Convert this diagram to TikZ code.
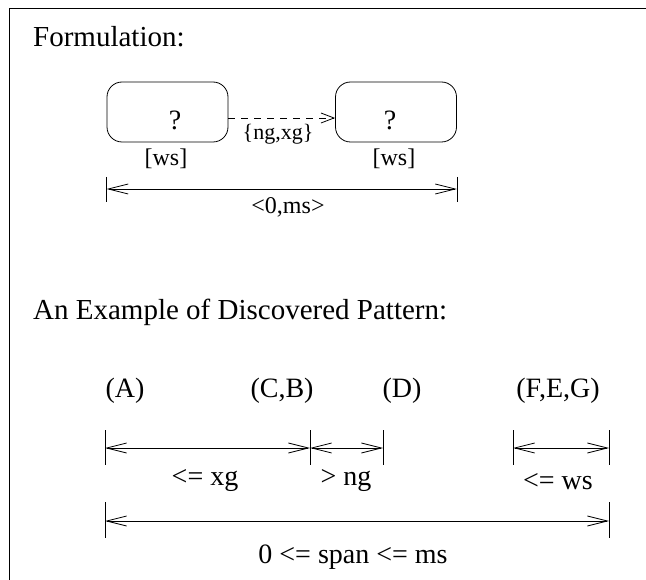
\documentclass[tikz,border=0pt]{standalone}
\usepackage{fontspec}
\setmainfont{Liberation Serif}
\usetikzlibrary{arrows.meta}
\tikzset{
  x=1pt, y=-1pt,
  hdtxt/.style={font=\fontsize{29}{32}\selectfont, inner sep=0pt, anchor=base west},
  pattxt/.style={font=\fontsize{28}{30}\selectfont, inner sep=0pt, anchor=base},
  qtxt/.style={font=\fontsize{28}{30}\selectfont, inner sep=0pt, anchor=base},
  wstxt/.style={font=\fontsize{24}{26}\selectfont, inner sep=0pt, anchor=base},
  gaptxt/.style={font=\fontsize{22}{24}\selectfont, inner sep=0pt, anchor=base},
  qbox/.style={draw, rounded corners=15pt, minimum width=121pt, minimum height=60pt, inner sep=0pt, line width=0.8pt},
  dimline/.style={line width=0.8pt, {Straight Barb[length=20pt,width=10pt]}-{Straight Barb[length=20pt,width=10pt]}},
  gaparrow/.style={line width=0.8pt, dash pattern=on 7pt off 6pt, -{Straight Barb[length=13pt,width=10pt]}},
  tick/.style={line width=0.8pt},
  frame/.style={line width=1pt}
}
\begin{document}
\begin{tikzpicture}
\useasboundingbox (0,0) rectangle (646,580);
% frame
\coordinate (fb) at (9,580);
\coordinate (ftl) at (9,9);
\coordinate (ftr) at (646,9);
\draw[frame] (fb) -- (ftl) -- (ftr);

\node[hdtxt] (form) at (33,47) {Formulation:};

\node[qbox] (b1) at (167.5,112) {};
\node[qbox] (b2) at (396,112) {};
\node[qtxt] (q1) at (175,130) {?};
\node[qtxt] (q2) at (390,130) {?};
\coordinate (d1) at (b1.east |- 0,118);
\coordinate (d2) at (b2.west |- 0,118);
\draw[gaparrow] (d1) -- (d2);
\node[gaptxt] (ngxg) at (278,140) {\{ng,xg\}};
\node[wstxt] (ws1) at (166,166) {[ws]};
\node[wstxt] (ws2) at (394,166) {[ws]};

\coordinate (t1a) at (b1.west |- 0,177); \coordinate (t1b) at (b1.west |- 0,202);
\coordinate (t2a) at (b2.east |- 0,177); \coordinate (t2b) at (b2.east |- 0,202);
\draw[tick] (t1a) -- (t1b);
\draw[tick] (t2a) -- (t2b);
\coordinate (m1) at (b1.west |- 0,189); \coordinate (m2) at (b2.east |- 0,189);
\draw[dimline] (m1) -- (m2);
\node[wstxt] (ms) at (288,214) {<0,ms>};

\node[hdtxt] (ex) at (33,320) {An Example of Discovered Pattern:};

\node[pattxt] (A) at (125,398) {(A)};
\node[pattxt] (CB) at (282,398) {(C,B)};
\node[pattxt] (D) at (402,398) {(D)};
\node[pattxt] (FEG) at (558,398) {(F,E,G)};

\foreach \x/\n in {105/p1,310/p2,383/p3,513/p4,609/p5}{
  \coordinate (\n a) at (\x,430);
  \coordinate (\n b) at (\x,465);
  \coordinate (\n) at (\x,448);
  \draw[tick] (\n a) -- (\n b);
}
\draw[dimline] (p1) -- (p2);
\draw[dimline] (p2) -- (p3);
\draw[dimline] (p4) -- (p5);
\node[pattxt] (lxg) at (205,485) {<= xg};
\node[pattxt] (lng) at (346,485) {> ng};
\node[pattxt] (lws) at (558,489) {<= ws};

\coordinate (s1a) at (105,502); \coordinate (s1b) at (105,538);
\coordinate (s2a) at (609,502); \coordinate (s2b) at (609,538);
\draw[tick] (s1a) -- (s1b);
\draw[tick] (s2a) -- (s2b);
\coordinate (s1) at (105,521); \coordinate (s2) at (609,521);
\draw[dimline] (s1) -- (s2);
\node[pattxt] (span) at (353,563) {0 <= span <= ms};
\end{tikzpicture}
\end{document}
